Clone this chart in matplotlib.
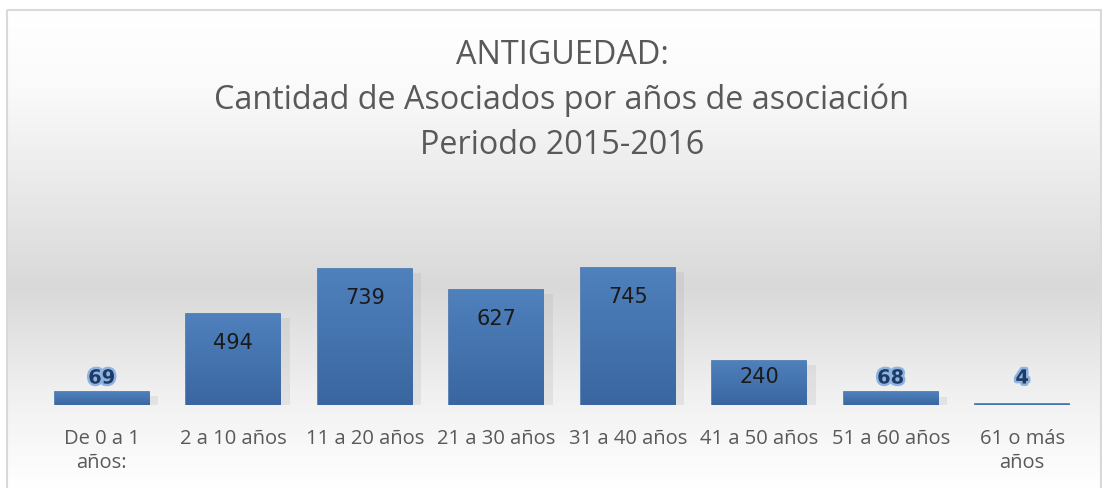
import numpy as np
import matplotlib
matplotlib.use("Agg")
import matplotlib.pyplot as plt
from matplotlib import patheffects as pe
from matplotlib.colors import LinearSegmentedColormap
from matplotlib.patches import Rectangle

categories = ["De 0 a 1\naños:", "2 a 10 años", "11 a 20 años", "21 a 30 años",
              "31 a 40 años", "41 a 50 años", "51 a 60 años", "61 o más\naños"]
values = [69, 494, 739, 627, 745, 240, 68, 4]
title_lines = ["ANTIGUEDAD:", "Cantidad de Asociados por años de asociación", "Periodo 2015-2016"]

W, H = 1102, 488
fig = plt.figure(figsize=(W / 100, H / 100), dpi=100)
fig.patch.set_facecolor("white")

# background gradient panel
bg = fig.add_axes([0, 0, 1, 1], zorder=0)
bg.set_axis_off()
bg.set_xlim(0, W)
bg.set_ylim(H, 0)
ys = np.linspace(0, 1, 256)
stops = [(0.0, "#ffffff"), (0.15, "#fbfbfb"), (0.58, "#d9d9d9"), (0.8, "#f0f0f0"), (1.0, "#ffffff")]
cmap_bg = LinearSegmentedColormap.from_list("bg", stops)
bg.imshow(ys[:, None], cmap=cmap_bg, aspect="auto", extent=[7, W, H, 10], zorder=0)
bg.add_patch(Rectangle((7, 10), W - 8, H, fill=False, edgecolor="#d9d9d9", lw=1.5, zorder=2))

# title
for i, line in enumerate(title_lines):
    bg.text(562, 55 + i * 45.5, line, ha="center", va="center", fontsize=23.3,
            family="Open Sans", color="#595959", zorder=3)

# main axes
x0, x1 = 36, 1088
ybot = 405
ax = fig.add_axes([x0 / W, (H - ybot) / H, (x1 - x0) / W, (ybot - 250) / H], zorder=1)
ax.set_facecolor("none")
n = len(values)
xs = np.arange(n)
ax.set_xlim(-0.5, n - 0.5)
top_px = 155
ax.set_ylim(0, 739 * top_px / 136)
ymax = ax.get_ylim()[1]
upx = ymax / top_px  # data units per pixel
for s in ax.spines.values():
    s.set_visible(False)
ax.set_yticks([])
ax.set_xticks(xs)
ax.set_xticklabels(categories, fontsize=14.5, family="Open Sans", color="#595959",
                   linespacing=1.3, va="top")
ax.tick_params(axis="x", length=0, pad=17)

bw = 0.715
bars = ax.bar(xs, values, width=bw, color="#4a7ab5", edgecolor="#4473ad", linewidth=1.2, zorder=2)
bar_cmap = LinearSegmentedColormap.from_list("bar", ["#3a66a0", "#4f81bd"])
grad = np.linspace(0, 1, 128)[:, None]
for b in bars:
    b.set_path_effects([pe.SimplePatchShadow(offset=(7, -3), shadow_rgbFace="#a0a0a0", alpha=0.18),
                        pe.Normal()])
    xl, w, h = b.get_x(), b.get_width(), b.get_height()
    im = ax.imshow(grad, cmap=bar_cmap, origin="lower", aspect="auto",
                   extent=[xl, xl + w, 0, h], zorder=3)
    im.set_clip_path(b)

for x, v in zip(xs, values):
    hpx = v / upx
    if v > 150:
        off = min(29, 0.37 * hpx)
        ax.text(x, v - off * upx, str(v), ha="center", va="center", fontsize=15,
                family="DejaVu Sans", color="#1a1a1a", zorder=5)
    else:
        ypx = max(hpx, 13) + 14
        ax.text(x, ypx * upx, str(v), ha="center", va="center", fontsize=14,
                family="DejaVu Sans", fontweight="bold", color="#1f3b63", zorder=5,
                path_effects=[pe.withStroke(linewidth=3.5, foreground="#8db3e2")])

fig.savefig("out.png", dpi=100)
